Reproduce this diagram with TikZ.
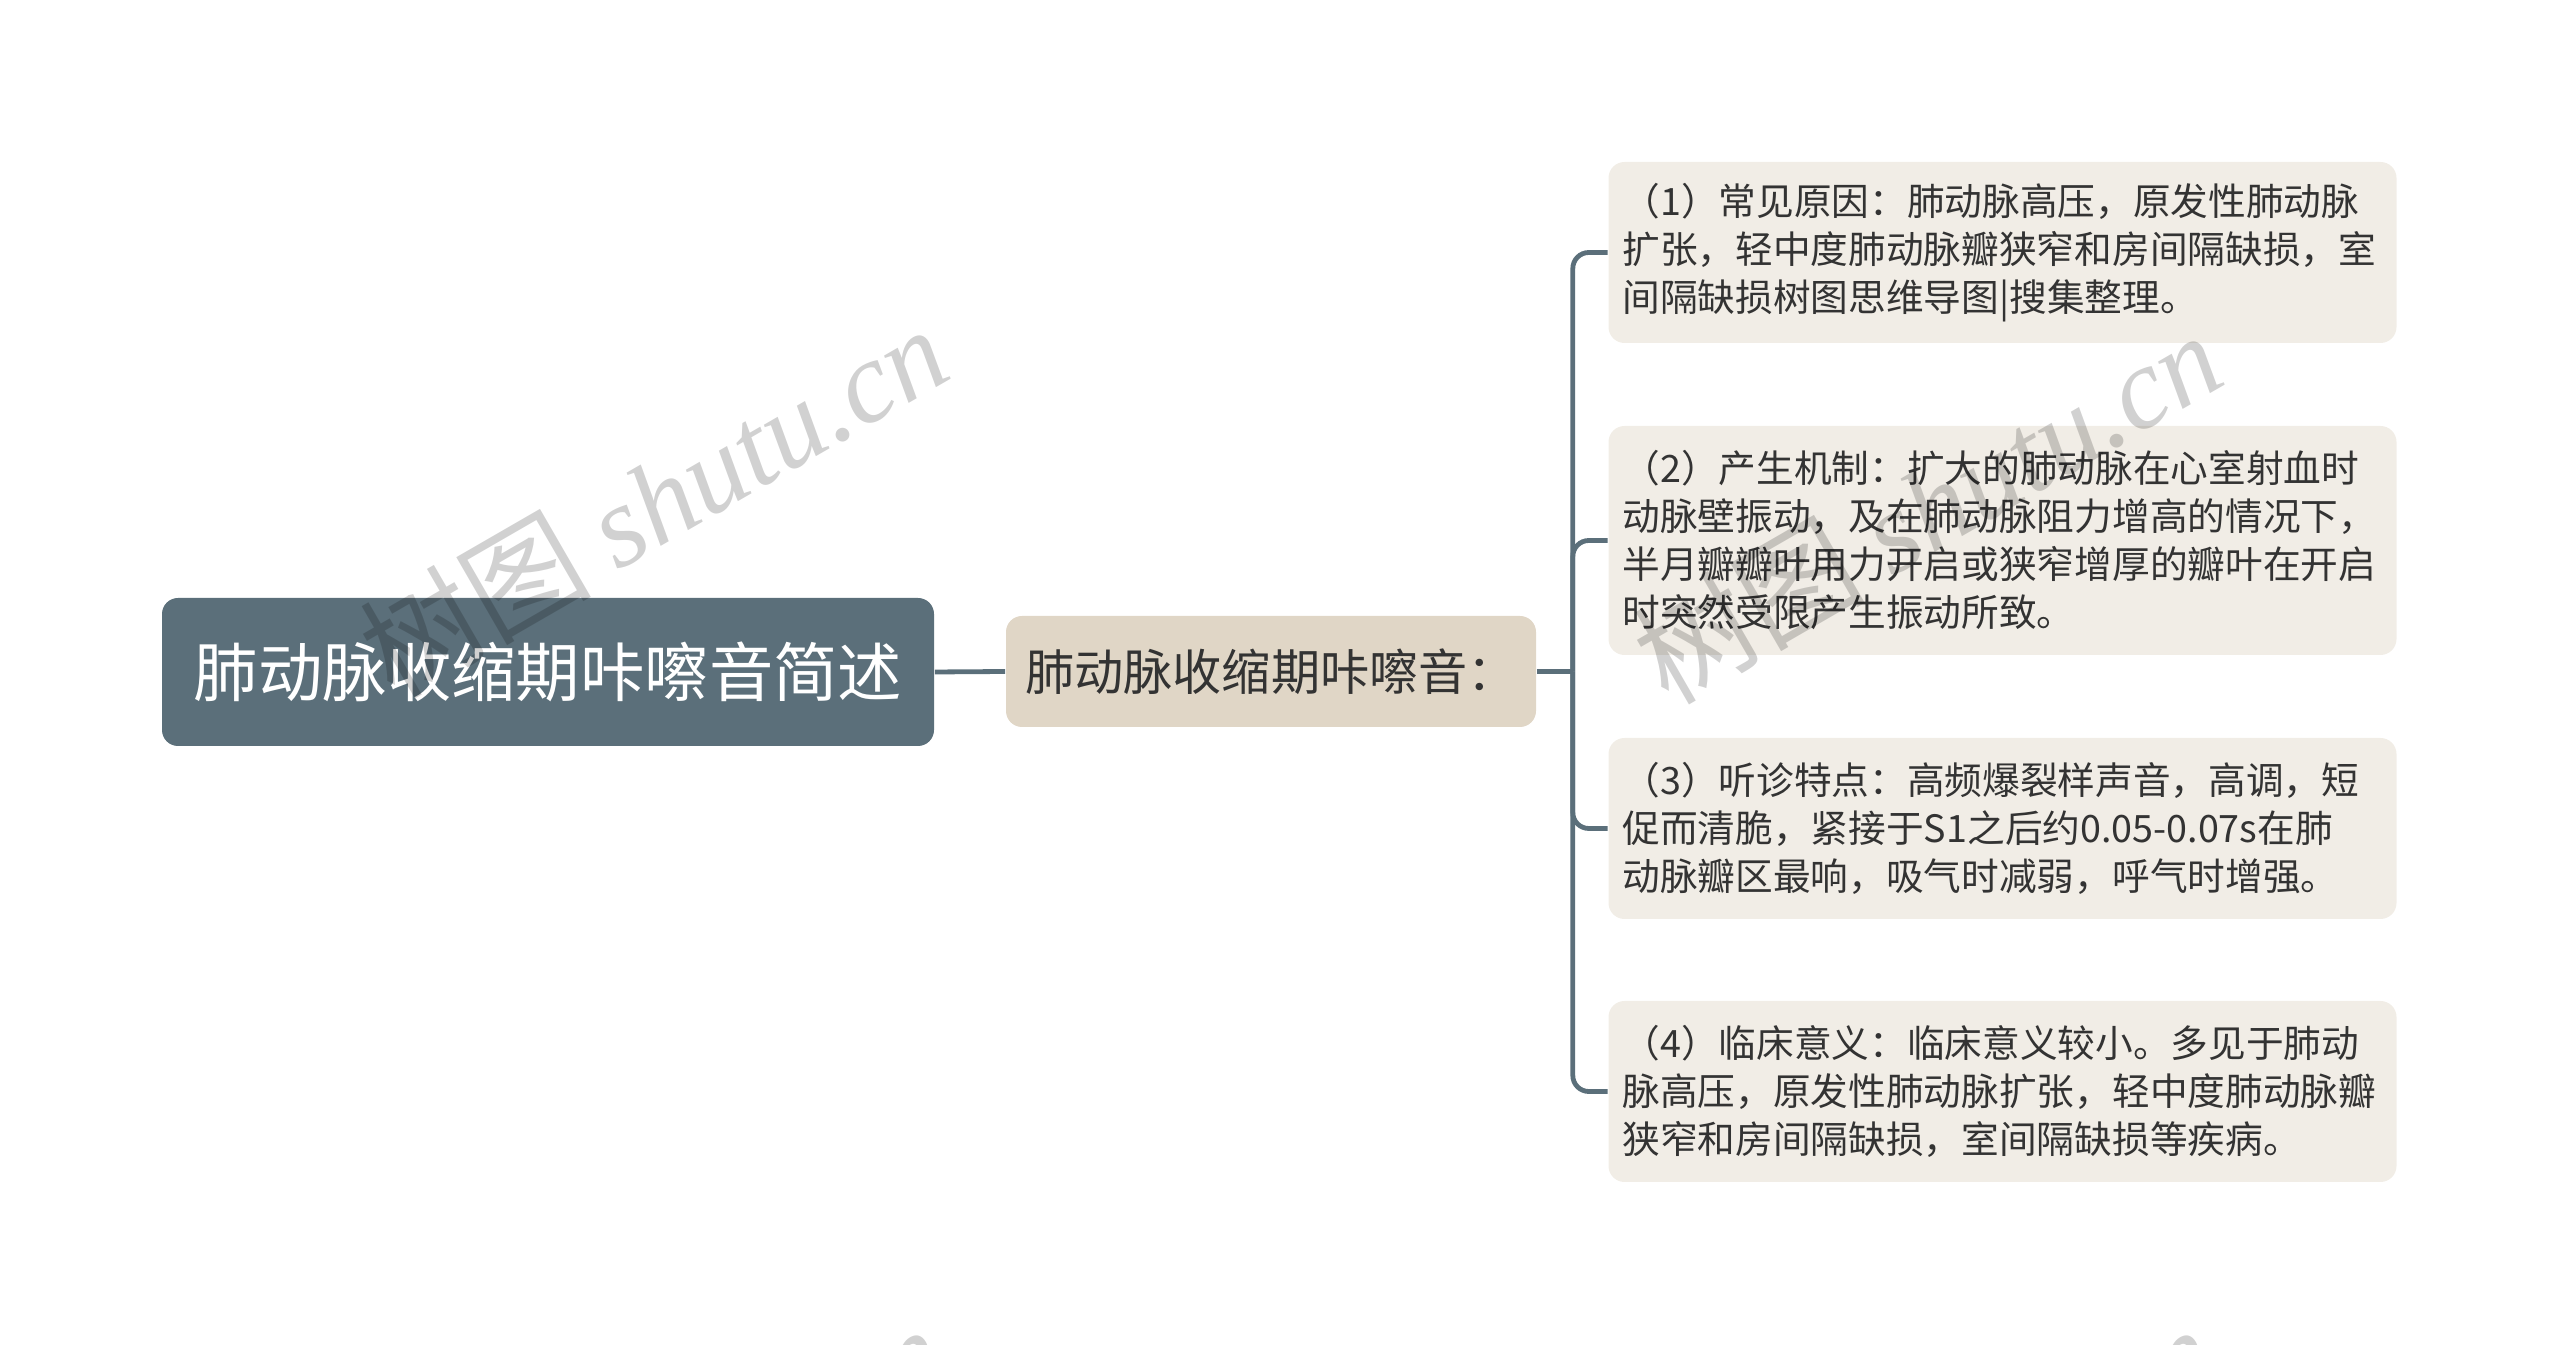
\documentclass[tikz,border=0pt]{standalone}
\usepackage{fontspec}
\setmainfont{Noto Sans CJK SC}
\newfontfamily\wmfont{Liberation Serif}
\usetikzlibrary{calc}

\definecolor{rootblue}{RGB}{91,111,122}
\definecolor{midtan}{RGB}{224,214,198}
\definecolor{leafgrey}{RGB}{241,237,230}
\definecolor{txtdark}{RGB}{51,51,51}

\tikzset{
  rootbox/.style={fill=rootblue, rounded corners=4pt, text=white, inner sep=0pt,
    minimum width=193pt, minimum height=37pt, font=\fontsize{16.1}{19}\selectfont},
  midbox/.style={fill=midtan, rounded corners=4pt, text=txtdark, inner sep=0pt,
    minimum width=132.5pt, minimum height=27.75pt, font=\fontsize{12.3}{15}\selectfont},
  leafbox/.style={fill=leafgrey, rounded corners=4pt, text=txtdark, inner xsep=3.5pt, inner ysep=0pt,
    text width=190pt, align=left, minimum height=45.25pt, font=\fontsize{9.42}{12}\selectfont},
  link/.style={draw=rootblue, line width=1.2pt},
  watermark/.style={text=black, text opacity=0.18, rotate=30, inner sep=0pt,
    font=\fontsize{29}{32}\selectfont}
}

\begin{document}
\begin{tikzpicture}[x=0.25pt,y=0.25pt,yscale=-1,xscale=1]
\useasboundingbox (0,0) rectangle (2560,1345);

% main nodes
\node [rootbox] (root) at (548,672) {肺动脉收缩期咔嚓音简述};
\node [midbox] (mid) at (1271,671.5) {肺动脉收缩期咔嚓音：};

% leaf nodes
\node [leafbox] (leafa) at (2002.5,252.5) {（1）常见原因：肺动脉高压，原发性肺动脉\\扩张，轻中度肺动脉瓣狭窄和房间隔缺损，室\\间隔缺损树图思维导图|搜集整理。};
\node [leafbox, minimum height=57.25pt] (leafb) at (2002.5,540.5) {（2）产生机制：扩大的肺动脉在心室射血时\\动脉壁振动，及在肺动脉阻力增高的情况下，\\半月瓣瓣叶用力开启或狭窄增厚的瓣叶在开启\\时突然受限产生振动所致。};
\node [leafbox] (leafc) at (2002.5,828.5) {（3）听诊特点：高频爆裂样声音，高调，短\\促而清脆，紧接于S1之后约0.05-0.07s在肺\\动脉瓣区最响，吸气时减弱，呼气时增强。};
\node [leafbox] (leafd) at (2002.5,1091.5) {（4）临床意义：临床意义较小。多见于肺动\\脉高压，原发性肺动脉扩张，轻中度肺动脉瓣\\狭窄和房间隔缺损，室间隔缺损等疾病。};

% connectors
\coordinate (fork) at ($(mid.east)+(36,0)$);
\draw [link] (root.east) -- (mid.west);
\draw [link] (mid.east) -- (fork);
\foreach \n in {leafa,leafb,leafc,leafd}
  \draw [link, rounded corners=4pt] (fork) |- (\n.west);

% watermarks
\node [watermark] (wma) at (653,500) {树图 {\wmfont\itshape shutu.cn}};
\node [watermark] (wmb) at (1927,506) {树图 {\wmfont\itshape shutu.cn}};
\node [watermark] (wmc) at (650,1500) {树图 {\wmfont\itshape shutu.cn}};
\node [watermark] (wmd) at (1920,1500) {树图 {\wmfont\itshape shutu.cn}};

\end{tikzpicture}
\end{document}
